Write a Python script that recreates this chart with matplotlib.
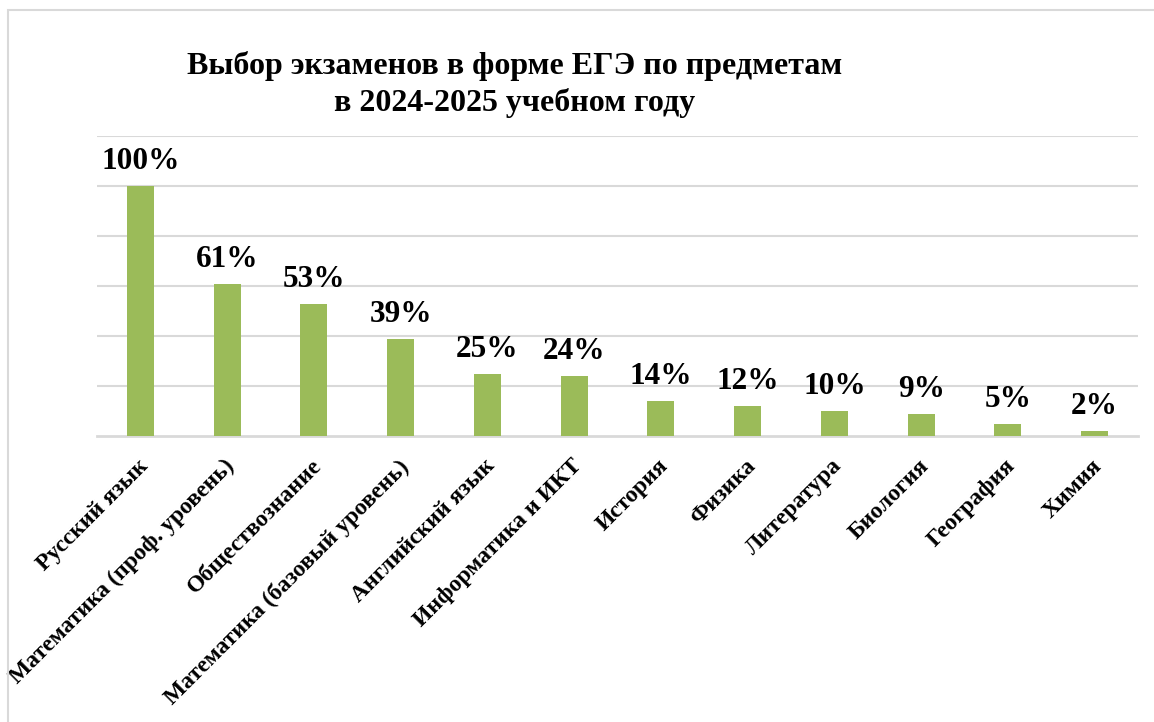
import matplotlib
matplotlib.use("Agg")
import matplotlib.pyplot as plt
from matplotlib.patches import Rectangle
from matplotlib.transforms import ScaledTranslation

categories = ["Русский язык", "Математика (проф. уровень)", "Обществознание",
              "Математика (базовый уровень)", "Английский язык", "Информатика и ИКТ",
              "История", "Физика", "Литература", "Биология", "География", "Химия"]
values = [100, 61, 53, 39, 25, 24, 14, 12, 10, 9, 5, 2]
title_lines = ["Выбор экзаменов в форме ЕГЭ по предметам", "в 2024-2025 учебном году"]

W, H = 1154, 722
fig = plt.figure(figsize=(W / 100, H / 100), dpi=100)
plt.rcParams['font.family'] = ['Liberation Serif', 'DejaVu Serif']

# outer border
fig.patches.append(Rectangle((8 / W, -0.01), 1.5, (H - 10) / H + 0.01, transform=fig.transFigure,
                             fill=False, edgecolor='#D9D9D9', linewidth=1.5))

left, right, top, bottom = 97, 1138, 136, 436
ax = fig.add_axes([left / W, 1 - bottom / H, (right - left) / W, (bottom - top) / H])
x = list(range(len(categories)))
ax.bar(x, values, width=0.31, color='#9BBB59', zorder=3)
ax.set_xlim(-0.5, len(categories) - 0.5)
ax.set_ylim(0, 120)
for yv in range(20, 121, 20):
    ax.axhline(yv, color='#D9D9D9', linewidth=1.5, zorder=1)
for s in ['top', 'right', 'left']:
    ax.spines[s].set_visible(False)
ax.spines['bottom'].set_color('#D9D9D9')
ax.spines['bottom'].set_linewidth(2)
ax.set_yticks([])
ax.set_xticks(x)
ax.set_xticklabels(categories, rotation=45, ha='right', va='top', rotation_mode='anchor',
                   fontsize=17, fontweight='bold')
ax.tick_params(axis='x', length=0, pad=14)
shift = ScaledTranslation(-3 / 100, 0, fig.dpi_scale_trans)
for lab in ax.get_xticklabels():
    lab.set_transform(lab.get_transform() + shift)
for xi, v in zip(x, values):
    ax.annotate(f"{v}%", (xi, v), xytext=(0, 7), textcoords='offset points',
                ha='center', va='bottom', fontsize=22.5, fontweight='bold')

fig.text(515 / W, 1 - 66 / H, title_lines[0], ha='center', va='center', fontsize=23, fontweight='bold')
fig.text(515 / W, 1 - 103 / H, title_lines[1], ha='center', va='center', fontsize=23, fontweight='bold')

fig.savefig("out.png", dpi=100)
